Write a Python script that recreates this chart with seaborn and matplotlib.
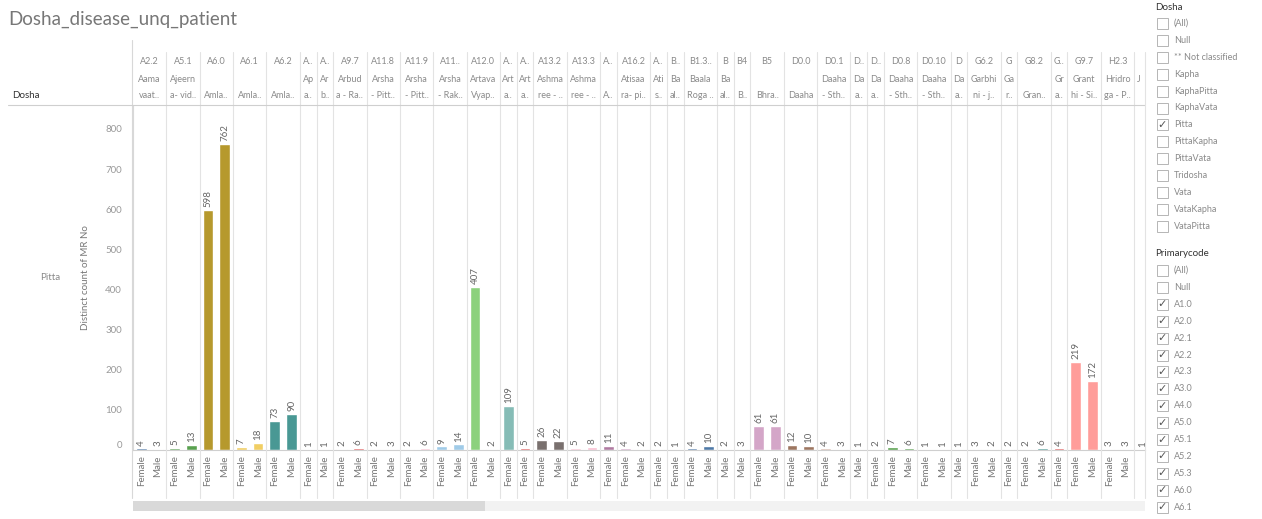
import pandas as pd
import seaborn as sns
import matplotlib.pyplot as plt
from matplotlib.patches import Rectangle
from matplotlib.lines import Line2D
from matplotlib.transforms import blended_transform_factory

# one entry per Primarycode pane (Dosha = Pitta)
codes = ["A2.2", "A5.1", "A6.0", "A6.1", "A6.2", "A..", "A..", "A9.7", "A11.8", "A11.9",
         "A11..", "A12.0", "A..", "A..", "A13.2", "A13.3", "A..", "A16.2", "A..", "B..",
         "B1.3..", "B", "B4", "B5", "D0.0", "D0.1", "D..", "D..", "D0.8", "D0.10",
         "D", "G6.2", "G", "G8.2", "G..", "G9.7", "H2.3", ""]
name_top = ["Aama", "Ajeern", "", "", "", "Ap", "Ar", "Arbud", "Arsha", "Arsha",
            "Arsha", "Artava", "Art", "Art", "Ashma", "Ashma", "", "Atisaa", "Ati", "Ba",
            "Baala", "Ba", "", "", "", "Daaha", "Da", "Da", "Daaha", "Daaha",
            "Da", "Garbhi", "Ga", "", "Gr", "Grant", "Hridro", "J"]
name_bot = ["vaat..", "a- vid..", "Amla..", "Amla..", "Amla..", "a..", "b..", "a - Ra..", "- Pitt..", "- Pitt..",
            "- Rak..", "Vyap..", "a..", "a..", "ree - ..", "ree - ..", "A..", "ra- pi..", "s..", "al..",
            "Roga ..", "al..", "B..", "Bhra..", "Daaha", "- Sth..", "a..", "a..", "- Sth..", "- Sth..",
            "a..", "ni - j..", "r..", "Gran..", "a..", "hi - Si..", "ga - P..", ""]
female = [4, 5, 598, 7, 73, 1, None, 2, 2, 2,
          9, 407, 109, 5, 26, 5, 11, 4, 2, 1,
          4, None, None, 61, 12, 4, None, 2, 7, 1,
          None, 3, 2, 2, 4, 219, 3, 1]
male = [3, 13, 762, 18, 90, None, 1, 6, 3, 6,
        14, 2, None, None, 22, 8, None, 2, None, None,
        10, 2, 3, 61, 10, 3, 1, None, 6, 1,
        1, 2, None, 6, None, 172, 3, None]
colors = ["#4e79a7", "#59a14f", "#b6992d", "#f1ce63", "#499894", "#86bcb6", "#e15759", "#e15759", "#bab0ac", "#fabfd2",
          "#a0cbe8", "#8cd17d", "#86bcb6", "#e15759", "#79706e", "#fabfd2", "#b07aa1", "#d4a6c8", "#ffbe7d", "#f28e2b",
          "#4e79a7", "#a0cbe8", "#f28e2b", "#d4a6c8", "#9d7660", "#d7b5a6", "#4e79a7", "#a0cbe8", "#59a14f", "#8cd17d",
          "#b6992d", "#f1ce63", "#86bcb6", "#499894", "#e15759", "#ff9d9a", "#bab0ac", "#79706e"]

dosha_items = ["(All)", "Null", "** Not classified", "Kapha", "KaphaPitta", "KaphaVata", "Pitta",
               "PittaKapha", "PittaVata", "Tridosha", "Vata", "VataKapha", "VataPitta"]
dosha_checked = ["Pitta"]
code_items = ["(All)", "Null", "A1.0", "A2.0", "A2.1", "A2.2", "A2.3", "A3.0", "A4.0", "A5.0",
              "A5.1", "A5.2", "A5.3", "A6.0", "A6.1"]
code_checked = code_items[2:]

rows = []
for i, (f, m) in enumerate(zip(female, male)):
    for sex, v in (("Female", f), ("Male", m)):
        if v is not None:
            rows.append({"col": f"c{i:02d}", "ci": i, "sex": sex, "value": v})
df = pd.DataFrame(rows)
df["slot"] = df["col"] + "_" + df["sex"]

sns.set_style("white")
plt.rcParams["font.family"] = ["Lato", "DejaVu Sans"]

W, H = 1262, 519
fig = plt.figure(figsize=(W / 100, H / 100), dpi=100)


def fx(x):
    return x / W


def fy(y):
    return 1 - y / H


L, R, T, B = 133, 1145, 106, 450
ax = fig.add_axes([fx(L), fy(B), (R - L) / W, (B - T) / H])
pal = {f"c{i:02d}": c for i, c in enumerate(colors)}
sns.barplot(data=df, x="slot", y="value", hue="col", palette=pal, dodge=False, saturation=1,
            width=0.64, legend=False, ax=ax, order=list(df["slot"]))

for cont in ax.containers:
    ax.bar_label(cont, fmt="%d", rotation=90, padding=2, fontsize=7, color="#666")

n = len(df)
ax.set_xlim(-0.5, n - 1 + 0.15)
ax.set_ylim(0, 857)
ax.set_yticks(range(0, 801, 100))
ax.set_xticks(range(n))
xlabels = list(df["sex"])
xlabels[-1] = ""
ax.set_xticklabels(xlabels, rotation=90, fontsize=7, color="#777")
ax.tick_params(axis="x", length=0, pad=4)
ax.tick_params(axis="y", length=4, width=0.6, color="#ddd", labelsize=7, labelcolor="#999", pad=4)
ylab = ax.get_yticklabels()
ylab[0].set_verticalalignment("bottom")
ax.set_xlabel("")
ax.set_ylabel("Distinct count of MR No", fontsize=7, color="#777")
ax.yaxis.set_label_coords((90 - L) / (R - L), 0.5)
for s in ["top", "right"]:
    ax.spines[s].set_visible(False)
ax.spines["left"].set_color("#d8d8d8")
ax.spines["bottom"].set_color("#cfcfcf")
ax.spines["left"].set_linewidth(0.8)
ax.spines["bottom"].set_linewidth(0.8)

# pane separators and headers
tr = blended_transform_factory(ax.transData, fig.transFigure)
starts = df.groupby("ci")["slot"].apply(lambda s: s.index.min())
ends = df.groupby("ci")["slot"].apply(lambda s: s.index.max())
for i in range(len(codes)):
    a, b = starts[i], ends[i]
    if i > 0:
        fig.add_artist(Line2D([a - 0.5, a - 0.5], [fy(52), fy(498)], transform=tr,
                              color="#e3e3e3", lw=0.8))
    cx = (a + b) / 2
    if i == len(codes) - 1:
        cx = a - 0.2
    for txt, yy in ((codes[i], 62), (name_top[i], 80), (name_bot[i], 96)):
        if txt:
            fig.text(cx, fy(yy), txt, transform=tr, ha="center", va="center",
                     fontsize=6.5, color="#8a8a8a")
fig.add_artist(Line2D([fx(L - 1), fx(L - 1)], [fy(40), fy(498)], color="#d8d8d8", lw=0.8))
fig.add_artist(Line2D([fx(8), fx(R)], [fy(105), fy(105)], color="#cfcfcf", lw=0.8))
fig.add_artist(Line2D([fx(R), fx(R)], [fy(52), fy(498)], color="#e3e3e3", lw=0.8))

# title and row header
fig.text(fx(8), fy(19), "Dosha_disease_unq_patient", fontsize=13.5, color="#777", va="center")
fig.text(fx(12), fy(96), "Dosha", fontsize=7, color="#333", va="center")
fig.text(fx(40), fy(277), "Pitta", fontsize=7, color="#888", va="center")

# scrollbar
fig.add_artist(Rectangle((fx(L), fy(511)), (R - L) / W, 10 / H, transform=fig.transFigure,
                         color="#f2f2f2", lw=0))
fig.add_artist(Rectangle((fx(L), fy(511)), (485 - L) / W, 10 / H, transform=fig.transFigure,
                         color="#d9d9d9", lw=0))


# filter cards
def card(title, items, checked, y0, y_first):
    fig.text(fx(1155), fy(y0), title, fontsize=7, color="#333", va="center")
    for k, it in enumerate(items):
        yy = y_first + 16.9 * k
        fig.add_artist(Rectangle((fx(1157), fy(yy + 5.5)), 11 / W, 11 / H, transform=fig.transFigure,
                                 facecolor="white", edgecolor="#b5b5b5", lw=0.7))
        if it in checked:
            fig.text(fx(1162.5), fy(yy), "✓", fontsize=8, color="#555", ha="center", va="center",
                     family=["DejaVu Sans"])
        fig.text(fx(1174), fy(yy), it, fontsize=6.5, color="#8a8a8a", va="center")


card("Dosha", dosha_items, dosha_checked, 7, 23.5)
card("Primarycode", code_items, code_checked, 254, 270.5)

fig.savefig("out.png", dpi=100)
